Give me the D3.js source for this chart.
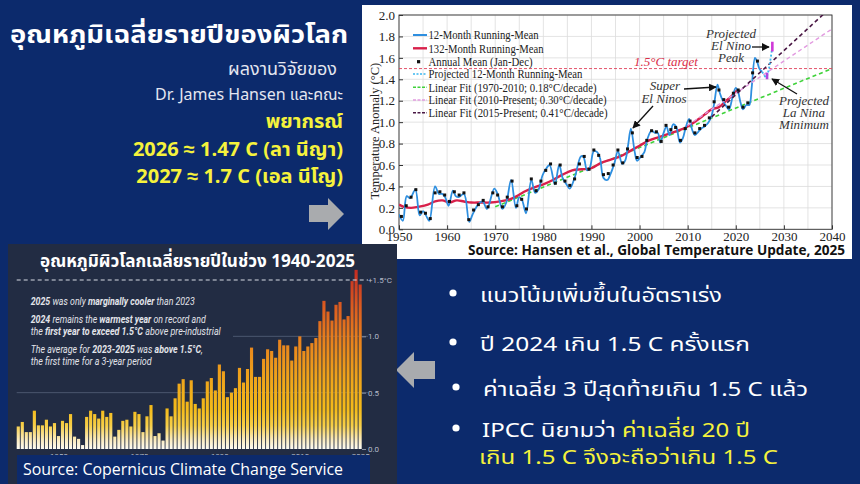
<!DOCTYPE html>
<html><head><meta charset="utf-8">
<script src="https://cdn.jsdelivr.net/npm/d3@7"></script>
<style>
html,body{margin:0;padding:0;background:#0c2a6c;}
svg{display:block;}
.thai{font-family:'Noto Sans Thai','Noto Sans Thai UI','Loma','Garuda','Tlwg Typo','Noto Sans',sans-serif;}
.serif{font-family:'Liberation Serif','DejaVu Serif',serif;}
</style></head>
<body>
<script>
// ---------- DATA ----------
// Hansen et al. chart
const hansenXTicks = [1950,1960,1970,1980,1990,2000,2010,2020,2030,2040];
const hansenYTicks = [0.0,0.2,0.4,0.6,0.8,1.0,1.2,1.4,1.6,1.8,2.0];
const annualStart = 1950;
const annualMean = [0.12,0.22,0.30,0.37,0.16,0.15,0.10,0.34,0.35,0.32,
  0.26,0.35,0.32,0.34,0.09,0.18,0.23,0.27,0.21,0.34,
  0.32,0.21,0.30,0.45,0.22,0.28,0.19,0.47,0.36,0.45,
  0.55,0.61,0.43,0.60,0.45,0.41,0.47,0.61,0.68,0.56,
  0.74,0.69,0.51,0.52,0.60,0.74,0.62,0.75,0.90,0.67,
  0.68,0.83,0.92,0.91,0.82,0.97,0.93,0.95,0.83,0.94,
  1.01,0.90,0.94,0.97,1.04,1.19,1.30,1.21,1.14,1.27,
  1.30,1.14,1.18,1.46,1.57];
const runMean12 = [[1950.0,0.14],[1950.8,0.08],[1951.6,0.31],[1952.3,0.29],[1953.4,0.37],[1954.3,0.13],[1955.0,0.17],[1955.6,0.13],[1956.3,0.08],[1957.5,0.40],[1958.3,0.33],[1959.0,0.33],[1959.6,0.30],[1960.3,0.22],[1961.2,0.36],[1961.8,0.31],[1962.4,0.30],[1963.5,0.33],[1964.6,0.07],[1965.3,0.14],[1966.0,0.20],[1966.6,0.24],[1967.4,0.26],[1968.3,0.19],[1969.8,0.38],[1970.5,0.33],[1971.5,0.19],[1972.3,0.25],[1973.3,0.46],[1974.3,0.20],[1975.0,0.30],[1975.6,0.27],[1976.4,0.15],[1977.5,0.46],[1978.3,0.34],[1979.0,0.37],[1979.8,0.50],[1980.5,0.56],[1981.3,0.60],[1982.4,0.42],[1983.3,0.60],[1984.0,0.48],[1984.8,0.42],[1985.5,0.38],[1986.5,0.48],[1987.8,0.68],[1988.3,0.68],[1989.1,0.55],[1989.7,0.58],[1990.5,0.73],[1991.2,0.72],[1991.8,0.66],[1992.5,0.48],[1993.3,0.46],[1994.0,0.52],[1994.8,0.62],[1995.5,0.73],[1996.4,0.61],[1997.0,0.64],[1997.6,0.78],[1998.2,0.94],[1999.0,0.72],[1999.5,0.64],[2000.3,0.68],[2001.0,0.72],[2001.6,0.84],[2002.5,0.92],[2003.2,0.90],[2003.8,0.90],[2004.3,0.81],[2005.0,0.90],[2005.6,0.96],[2006.2,0.88],[2007.0,0.98],[2007.6,0.96],[2008.4,0.81],[2009.0,0.85],[2009.6,0.95],[2010.3,1.03],[2011.0,0.92],[2011.5,0.88],[2012.2,0.91],[2012.8,0.94],[2013.5,0.96],[2014.2,0.99],[2014.9,1.05],[2015.5,1.17],[2016.2,1.35],[2016.7,1.27],[2017.3,1.20],[2018.0,1.15],[2018.6,1.12],[2019.3,1.23],[2020.0,1.32],[2020.5,1.28],[2021.0,1.18],[2021.5,1.12],[2022.2,1.16],[2022.8,1.16],[2023.3,1.32],[2024.0,1.60],[2024.4,1.57],[2024.9,1.50],[2025.5,1.47]];
const projected12 = [[2025.5,1.47],[2026.3,1.42],[2026.8,1.48],[2027.6,1.71]];
const runMean132 = [[1950,0.23],[1951,0.21],[1952.5,0.20],[1954,0.21],[1956,0.23],[1957.5,0.26],[1959,0.27],[1960.5,0.25],[1962,0.27],[1963.5,0.26],[1965,0.25],[1967,0.25],[1969,0.25],[1971,0.26],[1973,0.28],[1974.5,0.31],[1976,0.35],[1978,0.39],[1980,0.42],[1982,0.46],[1984,0.51],[1986,0.55],[1988,0.56],[1990,0.57],[1992,0.62],[1994,0.65],[1996,0.68],[1998,0.73],[2000,0.78],[2002,0.83],[2004,0.86],[2006,0.89],[2008,0.92],[2010,0.96],[2012,1.02],[2013.5,1.07],[2015,1.12],[2016.5,1.14],[2018,1.20],[2019.5,1.26],[2020.3,1.30]];
const fitGreen = [[1970,0.21],[2040,1.50]];
const fitPink = [[2010,0.97],[2040,1.87]];
const fitPurple = [[2015,1.05],[2040,2.08]];
const elNinoPeak = [[2027.6,1.66],[2027.6,1.75]];
const laNinaMin = [[2026.5,1.40],[2026.5,1.46]];
const targetLevel = 1.5;
const legendLabels = ["12-Month Running-Mean","132-Month Running-Mean","Annual Mean (Jan-Dec)","Projected 12-Month Running-Mean","Linear Fit (1970-2010; 0.18°C/decade)","Linear Fit (2010-Present; 0.30°C/decade)","Linear Fit (2015-Present; 0.41°C/decade)"];

// Copernicus bar chart
const barStart = 1940;
const barValues = [0.20,0.24,0.15,0.15,0.34,0.21,0.21,0.26,0.20,0.23,
 0.115,0.25,0.23,0.31,0.11,0.09,0.035,0.285,0.34,0.31,
 0.27,0.34,0.285,0.32,0.11,0.17,0.25,0.26,0.20,0.33,
 0.31,0.15,0.29,0.39,0.115,0.14,0.075,0.36,0.29,0.45,
 0.58,0.62,0.42,0.61,0.40,0.36,0.45,0.60,0.63,0.52,
 0.75,0.69,0.46,0.50,0.54,0.72,0.59,0.71,0.90,0.64,
 0.64,0.80,0.885,0.87,0.81,0.97,0.92,0.92,0.785,0.91,
 1.00,0.87,0.91,0.94,0.985,1.135,1.315,1.22,1.14,1.28,
 1.305,1.15,1.18,1.49,1.59,1.46];
const barYTicks = [0.0,0.5,1.0];
const barYTickLabels = ["0.0","0.5","1.0"];
const barXTicks = [1950,1970,1990,2010,2025];

// ---------- DRAW ----------
const W=860,H=484;
const svg=d3.select("body").append("svg").attr("width",W).attr("height",H);
svg.append("rect").attr("width",W).attr("height",H).attr("fill","#0c2a6c");
const defs=svg.append("defs");

// Left title block
const tb=svg.append("g").attr("class","thai");
tb.append("text").attr("x",10).attr("y",43).attr("fill","#fff").attr("font-weight","bold").attr("font-size",24)
  .attr("textLength",338).attr("lengthAdjust","spacingAndGlyphs").text("อุณหภูมิเฉลี่ยรายปีของผิวโลก");
tb.append("text").attr("x",337).attr("y",75).attr("text-anchor","end").attr("fill","#e4e6f0").attr("font-size",18).text("ผลงานวิจัยของ");
tb.append("text").attr("x",343).attr("y",100).attr("text-anchor","end").attr("fill","#e4e6f0").attr("font-size",16).text("Dr. James Hansen และคณะ");
const yel="#f5f23c";
tb.append("text").attr("x",343).attr("y",128).attr("text-anchor","end").attr("fill",yel).attr("font-weight","bold").attr("font-size",20).text("พยากรณ์");
tb.append("text").attr("x",343).attr("y",156).attr("text-anchor","end").attr("fill",yel).attr("font-weight","bold").attr("font-size",20).text("2026 ≈ 1.47 C (ลา นีญา)");
tb.append("text").attr("x",343).attr("y",183).attr("text-anchor","end").attr("fill",yel).attr("font-weight","bold").attr("font-size",20).text("2027 ≈ 1.7 C (เอล นีโญ)");

// Block arrows
const arrowCol="#a9abae";
svg.append("path").attr("fill",arrowCol).attr("d","M309,205 L328,205 L328,198 L344,214 L328,230 L328,222 L309,222 Z");
svg.append("path").attr("fill",arrowCol).attr("d","M396,370 L414,352 L414,361 L435,361 L435,379 L414,379 L414,388 Z");

// ---------- Hansen chart ----------
svg.append("rect").attr("x",362).attr("y",5).attr("width",490).attr("height",254).attr("fill","#fff");
const hx=d3.scaleLinear().domain([1950,2040]).range([399,832]);
const hy=d3.scaleLinear().domain([0,2]).range([229.3,15]);
const hg=svg.append("g");
hg.selectAll(".vg").data(d3.range(1950,2041,5)).join("line")
  .attr("x1",d=>hx(d)).attr("x2",d=>hx(d)).attr("y1",hy(0)).attr("y2",hy(2)).attr("stroke","#dcdcdc").attr("stroke-width",0.8);
hg.selectAll(".hgl").data(hansenYTicks).join("line")
  .attr("x1",hx(1950)).attr("x2",hx(2040)).attr("y1",d=>hy(d)).attr("y2",d=>hy(d)).attr("stroke","#dcdcdc").attr("stroke-width",0.8);
const xAx=d3.axisBottom(hx).tickValues(hansenXTicks).tickFormat(d3.format("d")).tickSizeInner(-4).tickSizeOuter(0).tickPadding(2);
const yAx=d3.axisLeft(hy).tickValues(hansenYTicks).tickFormat(d3.format(".1f")).tickSizeInner(-4).tickSizeOuter(0).tickPadding(4);
const gxA=hg.append("g").attr("transform",`translate(0,${hy(0)})`).call(xAx);
const gyA=hg.append("g").attr("transform",`translate(${hx(1950)},0)`).call(yAx);
[gxA,gyA].forEach(g=>{g.select(".domain").remove();g.selectAll("text").attr("class","serif").attr("font-size",13).attr("fill","#222");g.selectAll("line").attr("stroke","#333");});
hg.append("rect").attr("x",hx(1950)).attr("y",hy(2)).attr("width",hx(2040)-hx(1950)).attr("height",hy(0)-hy(2)).attr("fill","none").attr("stroke","#333").attr("stroke-width",0.9);
hg.append("text").attr("class","serif").attr("font-size",12.5).attr("fill","#222").attr("text-anchor","middle")
  .attr("transform",`translate(379,${hy(1.0)+9}) rotate(-90)`).text("Temperature Anomaly (°C)");

defs.append("clipPath").attr("id","hclip").append("rect").attr("x",hx(1950)).attr("y",hy(2)).attr("width",hx(2040)-hx(1950)).attr("height",hy(0)-hy(2));
const pg=hg.append("g").attr("clip-path","url(#hclip)");
const line=d3.line().x(d=>hx(d[0])).y(d=>hy(d[1]));
const smooth=d3.line().x(d=>hx(d[0])).y(d=>hy(d[1])).curve(d3.curveCatmullRom.alpha(0.5));
pg.append("line").attr("x1",hx(1950)).attr("x2",hx(2040)).attr("y1",hy(targetLevel)).attr("y2",hy(targetLevel)).attr("stroke","#e0405a").attr("stroke-width",0.9).attr("stroke-dasharray","3,2");
pg.append("path").datum(fitGreen).attr("d",line).attr("fill","none").attr("stroke","#3fd23a").attr("stroke-width",1.6).attr("stroke-dasharray","4,3");
pg.append("path").datum(runMean132).attr("d",smooth).attr("fill","none").attr("stroke","#d8204a").attr("stroke-width",2.4);
pg.append("path").datum(runMean12).attr("d",smooth).attr("fill","none").attr("stroke","#2e8fe0").attr("stroke-width",1.8);
pg.append("path").datum(fitPink).attr("d",line).attr("fill","none").attr("stroke","#e29ae0").attr("stroke-width",1.4).attr("stroke-dasharray","4,3");
pg.append("path").datum(fitPurple).attr("d",line).attr("fill","none").attr("stroke","#4a1845").attr("stroke-width",1.6).attr("stroke-dasharray","4,3");
pg.append("path").datum(projected12).attr("d",smooth).attr("fill","none").attr("stroke","#38b6f0").attr("stroke-width",1.8).attr("stroke-dasharray","2,2");
pg.append("path").datum(elNinoPeak).attr("d",line).attr("stroke","#d03ad8").attr("stroke-width",2.6);
pg.append("path").datum(laNinaMin).attr("d",line).attr("stroke","#b048e0").attr("stroke-width",2.6);
pg.selectAll(".am").data(annualMean).join("rect")
  .attr("x",(d,i)=>hx(annualStart+i+0.5)-1.5).attr("y",d=>hy(d)-1.5).attr("width",3).attr("height",3).attr("fill","#111");

// legend
const legY=[35,48.3,61.7,74,87.3,100,112.7];
const legW=[110,115,104,154,168,178,179];
const lg=hg.append("g");
const legStyles=[
 {c:"#2e8fe0",w:2,da:null},{c:"#d8204a",w:2.4,da:null},{c:null},{c:"#38b6f0",w:1.6,da:"2,1.5"},
 {c:"#3fd23a",w:1.5,da:"3,1.5"},{c:"#e29ae0",w:1.5,da:"3,1.5"},{c:"#4a1845",w:1.5,da:"3,1.5"}];
legendLabels.forEach((t,i)=>{
  const s=legStyles[i];
  if(s.c){lg.append("line").attr("x1",413).attr("x2",427).attr("y1",legY[i]).attr("y2",legY[i]).attr("stroke",s.c).attr("stroke-width",s.w).attr("stroke-dasharray",s.da);}
  else {lg.append("rect").attr("x",417).attr("y",legY[i]-1.6).attr("width",3.2).attr("height",3.2).attr("fill","#111");}
  lg.append("text").attr("class","serif").attr("x",428.5).attr("y",legY[i]+4.3).attr("font-size",13).attr("fill","#222")
    .attr("textLength",legW[i]).attr("lengthAdjust","spacingAndGlyphs").text(t);
});
// annotations
const ann=hg.append("g").attr("class","serif").attr("font-style","italic").attr("font-size",13).attr("fill","#333");
ann.append("text").attr("x",666).attr("y",66).attr("text-anchor","middle").attr("fill","#d9304a").text("1.5°C target");
ann.append("text").attr("x",665).attr("y",90).attr("text-anchor","middle").text("Super");
ann.append("text").attr("x",664).attr("y",103).attr("text-anchor","middle").text("El Ninos");
ann.append("text").attr("x",731).attr("y",38).attr("text-anchor","middle").text("Projected");
ann.append("text").attr("x",731).attr("y",50).attr("text-anchor","middle").text("El Nino");
ann.append("text").attr("x",731).attr("y",62).attr("text-anchor","middle").text("Peak");
ann.append("text").attr("x",804).attr("y",105).attr("text-anchor","middle").text("Projected");
ann.append("text").attr("x",804).attr("y",117).attr("text-anchor","middle").text("La Nina");
ann.append("text").attr("x",804).attr("y",129).attr("text-anchor","middle").text("Minimum");
defs.append("marker").attr("id","ah").attr("viewBox","0 0 10 10").attr("refX",9).attr("refY",5).attr("markerWidth",6).attr("markerHeight",6).attr("orient","auto")
  .append("path").attr("d","M0,0 L10,5 L0,10 Z").attr("fill","#111");
const arrs=[[653,106,633,128],[684,89,716,87],[752,47,769,47],[797,94,772,79]];
hg.selectAll(".ar").data(arrs).join("line").attr("x1",d=>d[0]).attr("y1",d=>d[1]).attr("x2",d=>d[2]).attr("y2",d=>d[3]).attr("stroke","#111").attr("stroke-width",1.3).attr("marker-end","url(#ah)");
svg.append("text").attr("x",468).attr("y",255).attr("font-family","'Open Sans',sans-serif").attr("font-weight","bold").attr("font-size",14).attr("fill","#111")
  .attr("textLength",377).attr("lengthAdjust","spacingAndGlyphs").text("Source: Hansen et al., Global Temperature Update, 2025");

// ---------- Copernicus bar panel ----------
svg.append("rect").attr("x",8).attr("y",244).attr("width",389).attr("height",240).attr("fill","#222c43");
const bx=d3.scaleBand().domain(barValues.map((d,i)=>barStart+i)).range([16.7,361.7]).paddingInner(0.22);
const by=d3.scaleLinear().domain([0,1.5]).range([449,280]);
const grad=defs.append("linearGradient").attr("id","bg").attr("gradientUnits","userSpaceOnUse").attr("x1",0).attr("x2",0).attr("y1",by(0)).attr("y2",by(1.6));
[[0,"#fdfbf3"],[0.05,"#fbecc0"],[0.13,"#f7cf48"],[0.22,"#f4bb1a"],[0.42,"#eea01b"],[0.6,"#e8821d"],[0.78,"#dc5e20"],[0.9,"#cf4222"],[1,"#c42a22"]]
  .forEach(s=>grad.append("stop").attr("offset",s[0]).attr("stop-color",s[1]));
const bp=svg.append("g");
bp.append("line").attr("x1",16.7).attr("x2",368).attr("y1",by(0.5)).attr("y2",by(0.5)).attr("stroke","#56627a").attr("stroke-width",0.8);
bp.append("line").attr("x1",233).attr("x2",368).attr("y1",by(1.0)).attr("y2",by(1.0)).attr("stroke","#56627a").attr("stroke-width",0.8);
bp.selectAll(".bar").data(barValues).join("rect")
  .attr("x",(d,i)=>bx(barStart+i)).attr("width",bx.bandwidth()).attr("y",d=>by(d)).attr("height",d=>by(0)-by(d)).attr("fill","url(#bg)");
bp.append("line").attr("x1",16.7).attr("x2",368).attr("y1",by(1.5)).attr("y2",by(1.5)).attr("stroke","#d8dce6").attr("stroke-width",1).attr("stroke-dasharray","4,3");
const byAx=d3.axisRight(by).tickValues(barYTicks).tickFormat((d,i)=>barYTickLabels[i]).tickSize(4).tickPadding(2);
const gby=bp.append("g").attr("transform","translate(362,0)").call(byAx);
gby.select(".domain").remove();
gby.selectAll("line").attr("stroke","#8a93a6");
gby.selectAll("text").attr("fill","#b6bccb").attr("font-size",8).attr("font-family","Roboto,sans-serif");
bp.append("text").attr("x",368).attr("y",by(1.5)+3).attr("fill","#b6bccb").attr("font-size",8).attr("font-family","Roboto,sans-serif").text("+1.5°C");
const bxAx=d3.axisBottom(d3.scaleLinear().domain([barStart,barStart+barValues.length-1]).range([bx(barStart)+bx.bandwidth()/2,bx(barStart+barValues.length-1)+bx.bandwidth()/2]))
  .tickValues(barXTicks).tickFormat(d3.format("d")).tickSize(0).tickPadding(4);
const gbx=bp.append("g").attr("transform",`translate(0,${by(0)})`).call(bxAx);
gbx.select(".domain").remove();
gbx.selectAll("text").attr("fill","#b6bccb").attr("font-size",8).attr("font-family","Roboto,sans-serif");
bp.append("text").attr("class","thai").attr("x",40).attr("y",267).attr("fill","#fff").attr("font-weight","bold").attr("font-size",18)
  .attr("textLength",315).attr("lengthAdjust","spacingAndGlyphs").text("อุณหภูมิผิวโลกเฉลี่ยรายปีในช่วง 1940-2025");
const notes=[
 {y:305,w:164,parts:[["2025",1],[" was only ",0],["marginally cooler",1],[" than 2023",0]]},
 {y:323.3,w:175,parts:[["2024",1],[" remains the ",0],["warmest year",1],[" on record and",0]]},
 {y:335.3,w:190,parts:[["the ",0],["first year to exceed 1.5°C",1],[" above pre-industrial",0]]},
 {y:353.3,w:172,parts:[["The average for ",0],["2023-2025",1],[" was ",0],["above 1.5°C",1],[",",0]]},
 {y:365.3,w:121,parts:[["the first time for a 3-year period",0]]}];
notes.forEach(n=>{
  const t=bp.append("text").attr("x",30.7).attr("y",n.y).attr("font-family","Roboto,sans-serif").attr("font-style","italic").attr("font-size",10.5).attr("fill","#e2e4ea")
    .attr("textLength",n.w).attr("lengthAdjust","spacingAndGlyphs");
  n.parts.forEach(p=>t.append("tspan").attr("font-weight",p[1]?"bold":"normal").text(p[0]));
});
svg.append("rect").attr("x",17).attr("y",455).attr("width",353).attr("height",29).attr("fill","#0c2a6c");
svg.append("text").attr("x",23).attr("y",475).attr("font-family","'Open Sans',sans-serif").attr("font-size",17).attr("fill","#fff")
  .attr("textLength",320).attr("lengthAdjust","spacingAndGlyphs").text("Source:  Copernicus  Climate Change Service");

// ---------- Bullets ----------
const bl=svg.append("g").attr("class","thai").attr("font-size",20).attr("fill","#fff");
const bullets=[
 {bx:453,tx:480,y:302,w:242,parts:[["แนวโน้มเพิ่มขึ้นในอัตราเร่ง","#fff"]]},
 {bx:453,tx:480,y:351,w:270,parts:[["ปี 2024 เกิน 1.5 C ครั้งแรก","#fff"]]},
 {bx:456,tx:483,y:396,w:325,parts:[["ค่าเฉลี่ย 3 ปีสุดท้ายเกิน 1.5 C แล้ว","#fff"]]},
 {bx:456,tx:482,y:437,w:268,parts:[["IPCC นิยามว่า ","#fff"],["ค่าเฉลี่ย 20 ปี",yel]]},
 {bx:null,tx:479,y:464,w:299,parts:[["เกิน 1.5 C จึงจะถือว่าเกิน 1.5 C",yel]]}];
bullets.forEach(b=>{
  if(b.bx) bl.append("circle").attr("cx",b.bx).attr("cy",b.y-9).attr("r",3.6).attr("fill","#fff");
  const t=bl.append("text").attr("x",b.tx).attr("y",b.y).attr("textLength",b.w).attr("lengthAdjust","spacingAndGlyphs");
  b.parts.forEach(p=>t.append("tspan").attr("fill",p[1]).text(p[0]));
});
</script>
</body></html>
